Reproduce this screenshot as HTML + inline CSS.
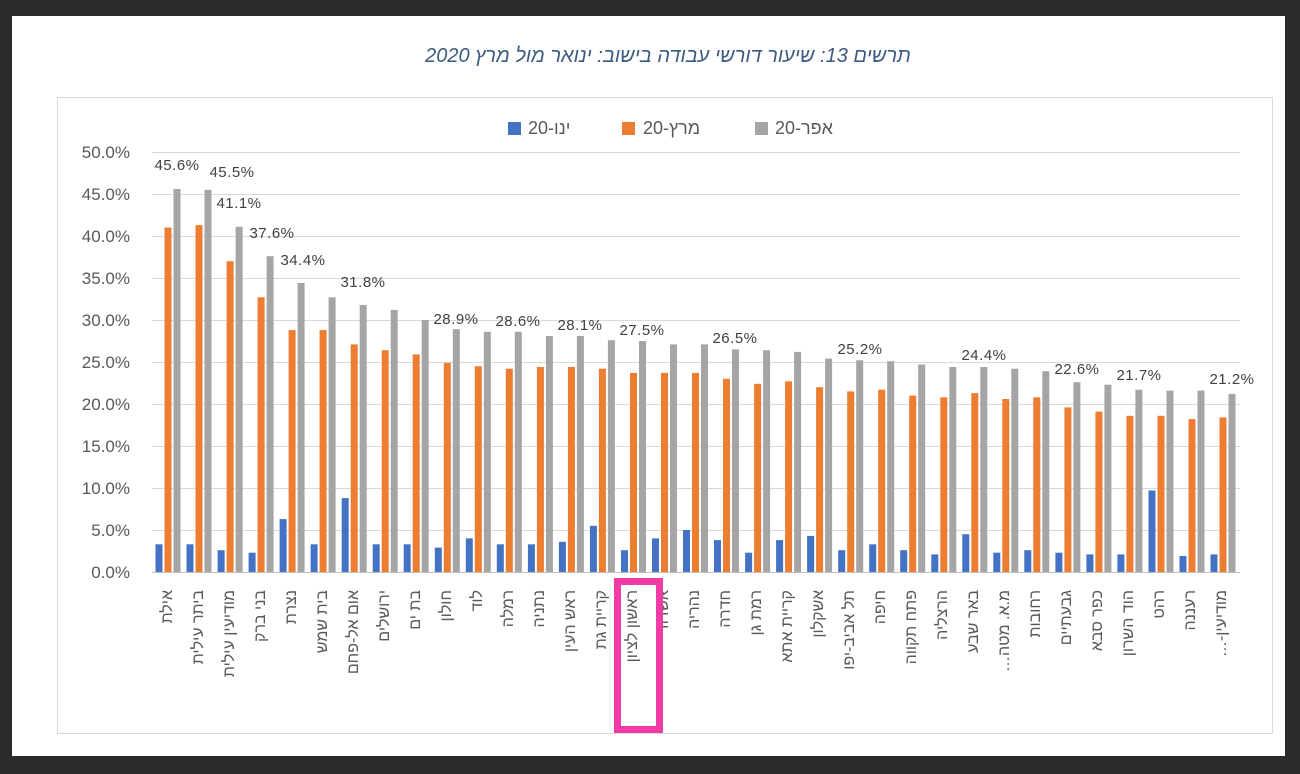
<!DOCTYPE html>
<html><head><meta charset="utf-8"><style>
html,body{margin:0;padding:0;background:#2b2b2b;}
svg{display:block;}
text{font-family:"Liberation Sans","DejaVu Sans",sans-serif;}
</style></head><body>
<svg width="1300" height="774" viewBox="0 0 1300 774" xmlns="http://www.w3.org/2000/svg">
<rect x="0" y="0" width="1300" height="774" fill="#2b2b2b"/>
<rect x="12" y="16" width="1273" height="740" fill="#ffffff"/>
<rect x="57.5" y="97.5" width="1215" height="636" fill="none" stroke="#d9d9d9" stroke-width="1"/>
<text x="668" y="62" font-size="20" font-style="italic" fill="#3b5a80" text-anchor="middle" direction="rtl">תרשים 13: שיעור דורשי עבודה בישוב: ינואר מול מרץ 2020</text>
<rect x="508" y="122" width="13" height="13" fill="#4472c4"/>
<text x="528" y="134" font-size="18" fill="#595959" direction="rtl" text-anchor="end">ינו-20</text>
<rect x="622" y="122" width="13" height="13" fill="#ed7d31"/>
<text x="643" y="134" font-size="18" fill="#595959" direction="rtl" text-anchor="end">מרץ-20</text>
<rect x="755" y="122" width="13" height="13" fill="#a5a5a5"/>
<text x="775" y="134" font-size="18" fill="#595959" direction="rtl" text-anchor="end">אפר-20</text>
<g id="grid" stroke="#d9d9d9" stroke-width="1"></g>
<g font-size="17" fill="#595959" text-anchor="end">
<text x="130" y="158">50.0%</text><text x="130" y="200">45.0%</text><text x="130" y="242">40.0%</text><text x="130" y="284">35.0%</text><text x="130" y="326">30.0%</text><text x="130" y="368">25.0%</text><text x="130" y="410">20.0%</text><text x="130" y="452">15.0%</text><text x="130" y="494">10.0%</text><text x="130" y="536">5.0%</text><text x="130" y="578">0.0%</text>
</g>
<g id="bars"></g>
<line x1="152" y1="572.5" x2="1240" y2="572.5" stroke="#bfbfbf" stroke-width="1"/>
<g font-size="15" fill="#404040" text-anchor="middle" style="font-family:'DejaVu Sans',sans-serif;letter-spacing:0.5px">
<text x="177" y="170">45.6%</text>
<text x="232" y="177">45.5%</text>
<text x="239" y="208">41.1%</text>
<text x="272" y="238">37.6%</text>
<text x="303" y="265">34.4%</text>
<text x="363" y="287">31.8%</text>
<text x="456" y="324">28.9%</text>
<text x="518" y="326">28.6%</text>
<text x="580" y="330">28.1%</text>
<text x="642" y="335">27.5%</text>
<text x="735" y="343">26.5%</text>
<text x="860" y="354">25.2%</text>
<text x="984" y="360">24.4%</text>
<text x="1077" y="374">22.6%</text>
<text x="1139" y="380">21.7%</text>
<text x="1232" y="384">21.2%</text>
</g>
<g font-size="16" fill="#595959" direction="rtl" text-anchor="start">
<text transform="translate(172,590) rotate(-90)">אילת</text>
<text transform="translate(203,590) rotate(-90)">ביתר עילית</text>
<text transform="translate(234,590) rotate(-90)">מודיעין עילית</text>
<text transform="translate(265,590) rotate(-90)">בני ברק</text>
<text transform="translate(296,590) rotate(-90)">נצרת</text>
<text transform="translate(327,590) rotate(-90)">בית שמש</text>
<text transform="translate(358,590) rotate(-90)">אום אל-פחם</text>
<text transform="translate(389,590) rotate(-90)">ירושלים</text>
<text transform="translate(420,590) rotate(-90)">בת ים</text>
<text transform="translate(451,590) rotate(-90)">חולון</text>
<text transform="translate(482,590) rotate(-90)">לוד</text>
<text transform="translate(513,590) rotate(-90)">רמלה</text>
<text transform="translate(544,590) rotate(-90)">נתניה</text>
<text transform="translate(575,590) rotate(-90)">ראש העין</text>
<text transform="translate(606,590) rotate(-90)">קריית גת</text>
<text transform="translate(637,590) rotate(-90)">ראשון לציון</text>
<text transform="translate(668,590) rotate(-90)">אשדוד</text>
<text transform="translate(699,590) rotate(-90)">נהריה</text>
<text transform="translate(730,590) rotate(-90)">חדרה</text>
<text transform="translate(761,590) rotate(-90)">רמת גן</text>
<text transform="translate(792,590) rotate(-90)">קריית אתא</text>
<text transform="translate(823,590) rotate(-90)">אשקלון</text>
<text transform="translate(854,590) rotate(-90)">תל אביב-יפו</text>
<text transform="translate(885,590) rotate(-90)">חיפה</text>
<text transform="translate(916,590) rotate(-90)">פתח תקווה</text>
<text transform="translate(947,590) rotate(-90)">הרצליה</text>
<text transform="translate(978,590) rotate(-90)">באר שבע</text>
<text transform="translate(1009,590) rotate(-90)">מ.א. מטה…</text>
<text transform="translate(1040,590) rotate(-90)">רחובות</text>
<text transform="translate(1071,590) rotate(-90)">גבעתיים</text>
<text transform="translate(1102,590) rotate(-90)">כפר סבא</text>
<text transform="translate(1133,590) rotate(-90)">הוד השרון</text>
<text transform="translate(1164,590) rotate(-90)">רהט</text>
<text transform="translate(1195,590) rotate(-90)">רעננה</text>
<text transform="translate(1226,590) rotate(-90)">מודיעין-…</text>
</g>
<rect x="617.5" y="581.5" width="42" height="148" fill="none" stroke="#f03ca4" stroke-width="7"/>
</svg>
<script>
var NS="http://www.w3.org/2000/svg";
var g=document.getElementById("grid");
for(var i=0;i<10;i++){var y=152+42*i+0.5;var l=document.createElementNS(NS,"line");l.setAttribute("x1",152);l.setAttribute("x2",1240);l.setAttribute("y1",y);l.setAttribute("y2",y);g.appendChild(l);}
var d=[[3.3,41.0,45.6],[3.3,41.3,45.5],[2.6,37.0,41.1],[2.3,32.7,37.6],[6.3,28.8,34.4],[3.3,28.8,32.7],[8.8,27.1,31.8],[3.3,26.4,31.2],[3.3,25.9,30.0],[2.9,24.9,28.9],[4.0,24.5,28.6],[3.3,24.2,28.6],[3.3,24.4,28.1],[3.6,24.4,28.1],[5.5,24.2,27.6],[2.6,23.7,27.5],[4.0,23.7,27.1],[5.0,23.7,27.1],[3.8,23.0,26.5],[2.3,22.4,26.4],[3.8,22.7,26.2],[4.3,22.0,25.4],[2.6,21.5,25.2],[3.3,21.7,25.1],[2.6,21.0,24.7],[2.1,20.8,24.4],[4.5,21.3,24.4],[2.3,20.6,24.2],[2.6,20.8,23.9],[2.3,19.6,22.6],[2.1,19.1,22.3],[2.1,18.6,21.7],[9.7,18.6,21.6],[1.9,18.2,21.6],[2.1,18.4,21.2]];
var cols=["#4472c4","#ed7d31","#a5a5a5"],b=document.getElementById("bars");
for(var i=0;i<d.length;i++){var c=168+31.03*i;for(var k=0;k<3;k++){var h=d[i][k]*8.4;var r=document.createElementNS(NS,"rect");r.setAttribute("x",(c-12.5+9*k).toFixed(1));r.setAttribute("y",(572-h).toFixed(1));r.setAttribute("width",7);r.setAttribute("height",h.toFixed(1));r.setAttribute("fill",cols[k]);b.appendChild(r);}}
</script>
</body></html>
